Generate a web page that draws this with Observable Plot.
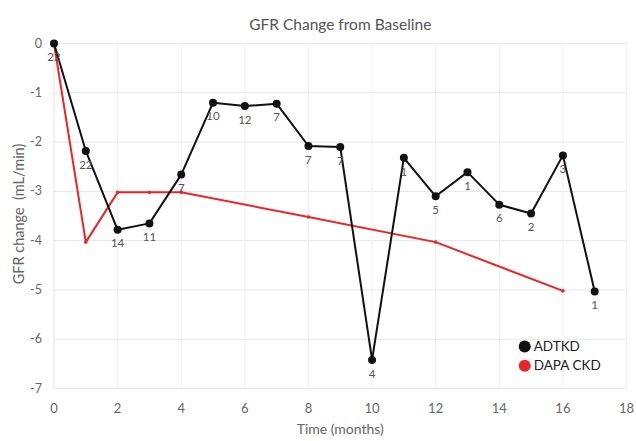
<!DOCTYPE html>
<html>
<head>
<meta charset="utf-8">
<script src="https://cdn.jsdelivr.net/npm/d3@7"></script>
<script src="https://cdn.jsdelivr.net/npm/@observablehq/plot@0.6"></script>
<style>
  html, body { margin: 0; padding: 0; background: #fff; }
  svg { display: block; }
</style>
</head>
<body>
<div id="chart"></div>
<script>
const months = [0, 1, 2, 3, 4, 5, 6, 7, 8, 9, 10, 11, 12, 13, 14, 15, 16, 17];
const adtkdValues = [0, -2.18, -3.78, -3.65, -2.66, -1.2, -1.27, -1.22, -2.08, -2.1, -6.42, -2.32, -3.1, -2.61, -3.27, -3.45, -2.27, -5.03];
const adtkdCounts = ["22", "22", "14", "11", "7", "10", "12", "7", "7", "7", "4", "1", "5", "1", "6", "2", "3", "1"];
const dapaMonths = [0, 1, 2, 3, 4, 8, 12, 16];
const dapaValues = [0, -4.03, -3.02, -3.02, -3.02, -3.52, -4.03, -5.02];
const xTicks = [0, 2, 4, 6, 8, 10, 12, 14, 16, 18];
const yTicks = [0, -1, -2, -3, -4, -5, -6, -7];
const seriesNames = ["ADTKD", "DAPA CKD"];
const seriesColors = ["#111111", "#e8262a"];

const adtkd = months.map((m, i) => ({month: m, value: adtkdValues[i], n: adtkdCounts[i]}));
const dapa = dapaMonths.map((m, i) => ({month: m, value: dapaValues[i]}));
const legend = seriesNames.map((s, i) => ({name: s, color: seriesColors[i], row: i}));

const font = "Lato, 'Open Sans', sans-serif";

const chart = Plot.plot({
  width: 636,
  height: 441,
  marginLeft: 53.5,
  marginRight: 10,
  marginTop: 43,
  marginBottom: 53,
  style: {fontFamily: font, background: "#fff"},
  x: {domain: [0, 18]},
  y: {domain: [-7, 0]},
  marks: [
    Plot.gridY(yTicks, {stroke: "#e6e6e6", strokeOpacity: 1}),
    Plot.gridX(xTicks.filter(d => d > 0), {stroke: "#efefef", strokeOpacity: 1}),
    Plot.ruleX([0], {stroke: "#e2e2e2"}),
    Plot.axisX(xTicks, {tickSize: 0, tickPadding: 15, fontSize: 13, fill: "#666", label: null, tickFormat: d => String(d)}),
    Plot.axisY(yTicks, {tickSize: 0, tickPadding: 12, fontSize: 12.5, fill: "#666", label: null, tickFormat: d => String(d)}),
    Plot.text(["GFR Change from Baseline"], {frameAnchor: "top", dy: -25, fontSize: 15.5, fill: "#555"}),
    Plot.text(["Time (months)"], {frameAnchor: "bottom", dy: 45, fontSize: 14, fill: "#666"}),
    Plot.text(["GFR change  (mL/min)"], {frameAnchor: "left", textAnchor: "middle", dx: -35, dy: -2, rotate: -90, fontSize: 14.5, fill: "#666"}),
    Plot.line(dapa, {x: "month", y: "value", stroke: seriesColors[1], strokeWidth: 2}),
    Plot.dot(dapa, {x: "month", y: "value", r: 1.8, fill: seriesColors[1]}),
    Plot.line(adtkd, {x: "month", y: "value", stroke: seriesColors[0], strokeWidth: 2}),
    Plot.dot(adtkd, {x: "month", y: "value", r: 4, fill: seriesColors[0]}),
    Plot.text(adtkd, {x: "month", y: "value", text: "n", dy: 14, fontSize: 11.5, fill: "#555"}),
    Plot.dot(legend, {x: () => 14.8, y: d => -6.15 - d.row * 0.39, r: 6, fill: "color"}),
    Plot.text(legend, {x: () => 14.8, y: d => -6.15 - d.row * 0.39, text: "name", dx: 9, textAnchor: "start", fontSize: 13.5, fill: "#222"})
  ]
});
document.getElementById("chart").appendChild(chart);
</script>
</body>
</html>
